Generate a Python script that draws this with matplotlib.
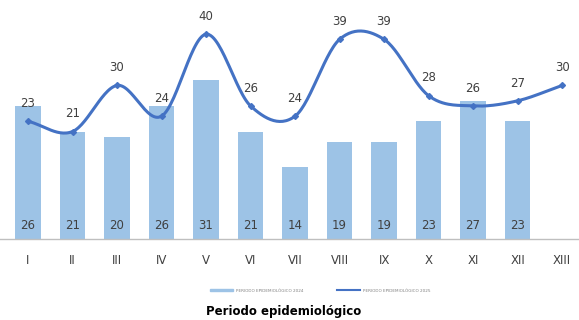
import numpy as np
import matplotlib.pyplot as plt
from matplotlib.lines import Line2D
from matplotlib.patches import Patch

plt.rcParams['font.family'] = ['Liberation Sans Narrow', 'DejaVu Sans']

periodos = ["I", "II", "III", "IV", "V", "VI", "VII", "VIII", "IX", "X", "XI", "XII", "XIII"]
casos_2024 = [26, 21, 20, 26, 31, 21, 14, 19, 19, 23, 27, 23]
casos_2025 = [23, 21, 30, 24, 40, 26, 24, 39, 39, 28, 26, 27, 30]

color_barra = "#9DC3E6"
color_linea = "#4472C4"


def suavizar(x, y, n=30):
    # curva tipo Catmull-Rom, parecida a la linea suavizada de Excel
    x = np.asarray(x, float)
    y = np.asarray(y, float)
    px = np.concatenate([[2 * x[0] - x[1]], x, [2 * x[-1] - x[-2]]])
    py = np.concatenate([[2 * y[0] - y[1]], y, [2 * y[-1] - y[-2]]])
    xs, ys = [], []
    t = np.linspace(0, 1, n)
    for i in range(1, len(px) - 2):
        for p, out in ((px, xs), (py, ys)):
            p0, p1, p2, p3 = p[i - 1], p[i], p[i + 1], p[i + 2]
            out.extend(0.5 * ((2 * p1) + (-p0 + p2) * t
                              + (2 * p0 - 5 * p1 + 4 * p2 - p3) * t ** 2
                              + (-p0 + 3 * p1 - 3 * p2 + p3) * t ** 3))
    return np.array(xs), np.array(ys)


fig = plt.figure(figsize=(5.79, 3.2), dpi=100)
ax = fig.add_axes([0, 0.253, 1, 0.72])

x_bar = np.arange(len(casos_2024))
x_lin = np.arange(len(casos_2025))

ax.bar(x_bar, casos_2024, width=0.58, color=color_barra, zorder=2)
for xi, v in zip(x_bar, casos_2024):
    ax.text(xi, 2.6, str(v), ha="center", va="center", fontsize=8.5, color="#404040")

sx, sy = suavizar(x_lin, casos_2025)
ax.plot(sx, sy, color=color_linea, lw=2.2, zorder=3, solid_capstyle="round")
ax.plot(x_lin, casos_2025, linestyle="None", marker="D", ms=3, color=color_linea, zorder=4)
for xi, v in zip(x_lin, casos_2025):
    ax.text(xi, v + 2.2, str(v), ha="center", va="bottom", fontsize=8.5, color="#404040")

ax.set_xlim(-0.63, 12.38)
ax.set_ylim(0, 45)
ax.set_xticks(x_lin)
ax.set_xticklabels(periodos, fontsize=8.5, color="#404040")
ax.tick_params(axis="x", length=0, pad=11)
ax.set_yticks([])
for s in ["top", "right", "left"]:
    ax.spines[s].set_visible(False)
ax.spines["bottom"].set_color("#BFBFBF")
ax.spines["bottom"].set_linewidth(1)

handles = [Patch(color=color_barra), Line2D([0], [0], color=color_linea, lw=1.5)]
labels = ["PERIODO EPIDEMIOLÓGICO 2024", "PERIODO EPIDEMIOLÓGICO 2025"]
fig.legend(handles, labels, loc="center", bbox_to_anchor=(0.553, 0.092), ncol=2,
           frameon=False, fontsize=3, handlelength=5.5, handleheight=0.3,
           columnspacing=8, labelcolor="#808080")

fig.text(0.49, 0.025, "Periodo epidemiológico", ha="center", va="center",
         fontsize=8.5, fontweight="bold", color="#000000")

fig.savefig("out.png", dpi=100)
